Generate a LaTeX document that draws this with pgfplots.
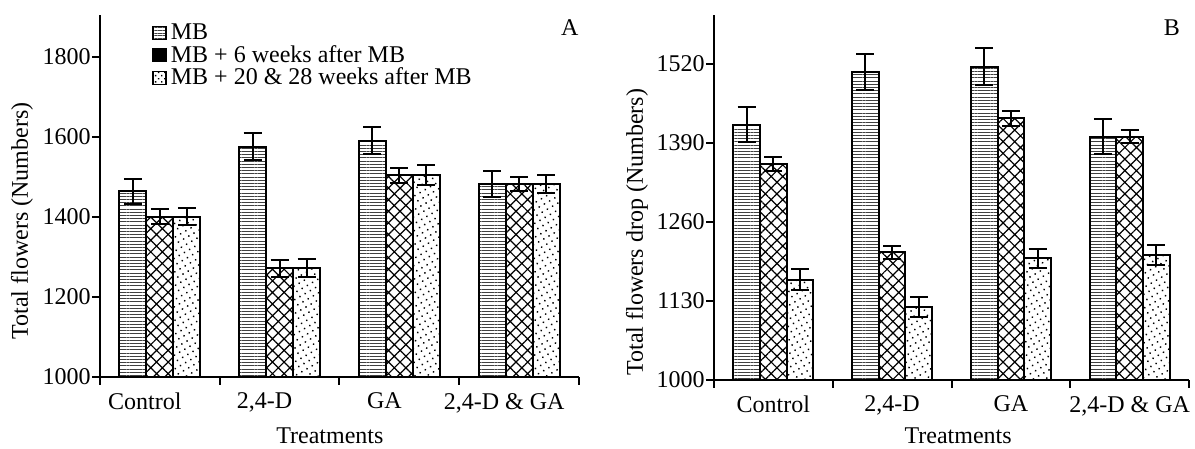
\documentclass[border=0pt]{standalone}
\usepackage{fontspec}
\setmainfont{Liberation Serif}
\usepackage{pgfplots}
\pgfplotsset{compat=1.18}
\usetikzlibrary{patterns.meta}

\pgfplotsset{
  panel/.style={
    scale only axis,
    ybar=0pt, bar width=0.225,
    xmin=-0.5, xmax=3.5,
    axis x line*=bottom, axis y line*=left,
    axis line style={line width=1pt,-},
    tick align=outside,
    major tick style={line width=1pt, black},
    major tick length=4pt,
    xtick={-0.5,0.5,1.5,2.5,3.5}, xticklabels={},
    extra x ticks={0,1,2,3},
    extra x tick labels={Control,{2,4-D},GA,{2,4-D \& GA}},
    extra x tick style={major tick length=0pt, xticklabel style={yshift=-4.5pt}},
    yticklabel style={inner sep=0.5pt},
    /pgf/number format/assume math mode=true,
    /pgf/number format/1000 sep={},
    tick label style={font=\fontsize{12}{14}\selectfont},
    label style={font=\fontsize{12}{14}\selectfont},
  },
  errs/.style={
    error bars/y dir=both, error bars/y explicit,
    error bars/error bar style={line width=1pt, black, solid},
    error bars/error mark options={rotate=90, mark size=4.5pt, line width=1pt, black},
  },
  sMB/.style={draw=black, line width=1pt,
    pattern={Lines[angle=0,distance=1.6pt,line width=0.4pt]}, pattern color=black!75,
    bar shift=-0.225, errs,
    legend image code/.code={\draw[line width=0.6pt, pattern={Lines[angle=0,distance=1.3pt,line width=0.4pt]}] (0pt,-3.2pt) rectangle (6.5pt,3.2pt);}},
  sX/.style={draw=black, line width=1pt,
    pattern={Hatch[angle=45,distance=4.1pt,line width=0.6pt]}, pattern color=black,
    bar shift=0, errs,
    legend image code/.code={\fill[black] (0pt,-3.2pt) rectangle (6.5pt,3.2pt);}},
  sD/.style={draw=black, line width=1pt,
    pattern={Dots[distance=3pt,radius=0.5pt,angle=30]}, pattern color=black,
    bar shift=0.225, errs,
    legend image code/.code={\draw[line width=0.6pt, pattern={Dots[distance=2.2pt,radius=0.5pt,angle=45]}] (0pt,-3.2pt) rectangle (6.5pt,3.2pt);}},
}

\begin{document}
\begin{tikzpicture}[font=\fontsize{12}{14}\selectfont]
\useasboundingbox (0pt,0pt) rectangle (597.5pt,224.5pt);

% Panel A
\begin{axis}[panel,
  at={(50pt,36pt)}, anchor=south west,
  width=239.5pt, height=181pt,
  ymin=1000, ymax=1905,
  ytick={1000,1200,1400,1600,1800},
  extra x ticks={-0.125,0.875,1.875,2.875},
  xlabel={Treatments},
  ylabel={Total flowers (Numbers)},
  xlabel style={at={(axis description cs:0.48,-0.163)}, anchor=center},
  ylabel style={at={(axis description cs:-0.163,0.431)}, anchor=center},
  legend style={at={(0.095,1.0)}, anchor=north west, draw=none, fill=none,
    font=\fontsize{12}{14}\selectfont, row sep=-2.5pt},
  legend cell align=left,
]
\addplot[sMB] coordinates {(0,1464) +- (0,32) (1,1576) +- (0,33) (2,1591) +- (0,33) (3,1482) +- (0,33)};
\addplot[sX] coordinates {(0,1401) +- (0,19) (1,1272) +- (0,21) (2,1504) +- (0,18) (3,1482) +- (0,18)};
\addplot[sD] coordinates {(0,1401) +- (0,22) (1,1272) +- (0,23) (2,1504) +- (0,25) (3,1482) +- (0,22)};
\legend{MB, MB + 6 weeks after MB, MB + 20 \& 28 weeks after MB}
\node at (rel axis cs:0.981,0.964) {A};
\end{axis}

% Panel B
\begin{axis}[panel,
  at={(357pt,34.5pt)}, anchor=south west,
  width=237.5pt, height=182.5pt,
  ymin=1000, ymax=1600,
  ytick={1000,1130,1260,1390,1520},
  xlabel={Treatments},
  ylabel={Total flowers drop (Numbers)},
  xlabel style={at={(axis description cs:0.514,-0.153)}, anchor=center},
  ylabel style={at={(axis description cs:-0.162,0.405)}, anchor=center},
]
\addplot[sMB] coordinates {(0,1420) +- (0,29) (1,1506) +- (0,30) (2,1515) +- (0,30) (3,1400) +- (0,29)};
\addplot[sX] coordinates {(0,1355) +- (0,12) (1,1210) +- (0,11) (2,1430) +- (0,12) (3,1400) +- (0,11)};
\addplot[sD] coordinates {(0,1165) +- (0,17) (1,1120) +- (0,16.5) (2,1200) +- (0,16) (3,1205) +- (0,16.5)};
\node at (rel axis cs:0.964,0.964) {B};
\end{axis}
\end{tikzpicture}
\end{document}
